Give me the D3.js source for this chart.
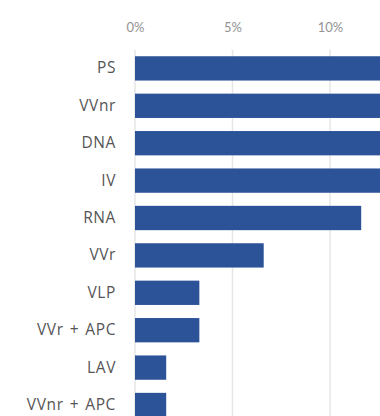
<!DOCTYPE html>
<html>
<head>
<meta charset="utf-8">
<script src="https://cdn.jsdelivr.net/npm/d3@7"></script>
<style>
    body { margin: 0; background: #fff; }
    svg { display: block; }
</style>
</head>
<body>
<svg></svg>
<script>
// categories, top to bottom
let categories = ['PS', 'VVnr', 'DNA', 'IV', 'RNA', 'VVr', 'VLP', 'VVr + APC', 'LAV', 'VVnr + APC'];
// share of candidates, in percent (first four run off the right edge)
let values = [14.8, 14.4, 13.9, 13.3, 11.6, 6.6, 3.3, 3.3, 1.6, 1.6];
let tickValues = [0, 5, 10];

let width = 380, height = 416;
let svg = d3.select('svg');

svg.attr('width', width).attr('height', height);

// scales
let xScale = d3.scaleLinear()
    .domain([0, 15])
    .range([135, 427.5]);

let yScale = d3.scaleBand()
    .domain(categories)
    .range([49.7, 423.7])
    .paddingInner(0.35)
    .paddingOuter(0.175);

// gridlines
svg.append('g')
    .selectAll('line')
    .data(tickValues)
    .enter()
    .append('line')
    .attr('x1', (d) => xScale(d))
    .attr('x2', (d) => xScale(d))
    .attr('y1', 49.7)
    .attr('y2', height)
    .attr('stroke', '#e6e6e6')
    .attr('stroke-width', 1.5);

// bars
svg.append('g')
    .selectAll('rect')
    .data(values)
    .enter()
    .append('rect')
    .attr('x', xScale(0))
    .attr('y', (d, i) => yScale(categories[i]))
    .attr('width', (d) => xScale(d) - xScale(0))
    .attr('height', yScale.bandwidth())
    .attr('fill', '#2c5398');

// top axis with percent labels
let xAxis = d3.axisTop(xScale)
    .tickValues(tickValues)
    .tickSize(0)
    .tickPadding(0)
    .tickFormat((d) => d + '%');

svg.append('g')
    .attr('transform', 'translate(0, 32)')
    .call(xAxis)
    .call((g) => g.select('.domain').remove())
    .selectAll('text')
    .attr('font-family', 'Lato, sans-serif')
    .attr('font-size', 13)
    .attr('fill', '#939393');

// category labels
let yAxis = d3.axisLeft(yScale)
    .tickSize(0)
    .tickPadding(19);

svg.append('g')
    .attr('transform', `translate(${xScale(0)}, 0)`)
    .call(yAxis)
    .call((g) => g.select('.domain').remove())
    .selectAll('text')
    .attr('font-family', '"Open Sans", sans-serif')
    .attr('font-size', 15.5)
    .attr('letter-spacing', 0.6)
    .attr('word-spacing', 1.5)
    .attr('fill', '#555555');
</script>
</body>
</html>
